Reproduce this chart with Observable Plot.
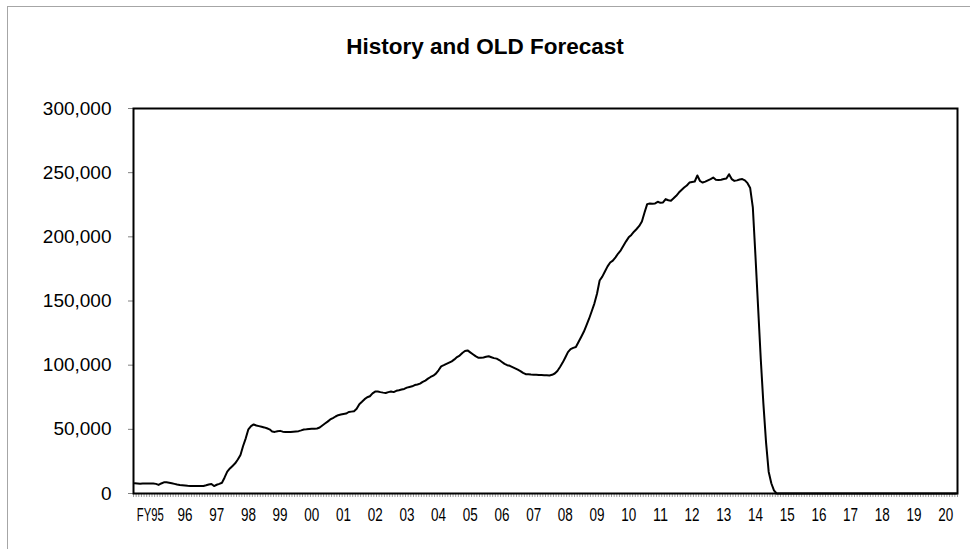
<!DOCTYPE html>
<html>
<head>
<meta charset="utf-8">
<script src="https://cdn.jsdelivr.net/npm/d3@7"></script>
<script src="https://cdn.jsdelivr.net/npm/@observablehq/plot@0.6"></script>
<style>
  html, body { margin: 0; padding: 0; background: #fff; }
  #wrap { position: relative; width: 970px; height: 549px; overflow: hidden; }
  #border { position: absolute; left: 7px; top: 6px; width: 1000px; height: 600px;
            border-left: 1px solid #a6a6a6; border-top: 1px solid #a6a6a6; box-sizing: border-box; }
  #title { position: relative; height: 80px; width: 970px; box-sizing: border-box; padding-top: 34px;
           text-align: center; font: bold 22.5px "Liberation Sans", Arial, sans-serif; line-height: 26px; color: #000; }
  #chart { position: relative; }
</style>
</head>
<body>
<div id="wrap">
  <div id="border"></div>
  <div id="title">History and OLD Forecast</div>
  <div id="chart"></div>
</div>
<script>
// Fiscal-year axis labels (one per year, FY95 .. FY20)
const fyLabels = ["FY95","96","97","98","99","00","01","02","03","04","05","06","07",
                  "08","09","10","11","12","13","14","15","16","17","18","19","20"];

// Y-axis tick values
const yTicks = [0, 50000, 100000, 150000, 200000, 250000, 300000];

// Monthly values, one row per fiscal year (Oct..Sep)
const fy95 = [7900, 7800, 7600, 7700, 7800, 7700, 7800, 7700, 7500, 6700, 7800, 8700];
const fy96 = [8700, 8400, 8000, 7500, 7000, 6600, 6400, 6200, 6000, 5900, 5800, 5800];
const fy97 = [5800, 5800, 5900, 6400, 7000, 7400, 5800, 6800, 7500, 8400, 12500, 17000];
const fy98 = [19500, 21500, 23500, 26500, 30000, 37000, 43000, 50000, 52500, 53800, 53000, 52500];
const fy99 = [52000, 51500, 50800, 50000, 48300, 48000, 48500, 48800, 48200, 48000, 47900, 48000];
const fy00 = [48200, 48400, 48600, 49200, 49900, 50000, 50300, 50500, 50400, 50700, 51400, 53000];
const fy01 = [54500, 56000, 57700, 58800, 60000, 61000, 61500, 62000, 62300, 63500, 63800, 64100];
const fy02 = [66000, 69600, 71500, 73500, 75000, 75800, 78000, 79400, 79500, 79000, 78600, 78300];
const fy03 = [79000, 79500, 79000, 80000, 80400, 81000, 81500, 82500, 83000, 83500, 84500, 85000];
const fy04 = [85600, 87000, 88000, 89500, 90800, 91800, 93400, 96000, 99100, 100000, 101000, 102000];
const fy05 = [103000, 104500, 106300, 107500, 109500, 111000, 111500, 110000, 108500, 107000, 105800, 105800];
const fy06 = [106000, 106500, 106900, 106200, 105500, 105100, 104000, 102500, 101000, 100000, 99500, 98500];
const fy07 = [97500, 96500, 95400, 94000, 93000, 92900, 92700, 92600, 92500, 92400, 92300, 92200];
const fy08 = [92100, 92000, 92500, 93500, 95500, 98600, 102000, 106000, 110200, 112500, 113500, 114100];
const fy09 = [118000, 122000, 126000, 131000, 136200, 142000, 148000, 155600, 166000, 169000, 173000, 177000];
const fy10 = [180000, 181500, 184000, 187000, 189500, 193000, 196500, 199600, 201500, 204000, 206100, 208500];
const fy11 = [212000, 219000, 225500, 226000, 225800, 226000, 227300, 226500, 226800, 229400, 228500, 228100];
const fy12 = [230000, 232000, 234500, 236500, 238400, 240000, 242300, 242800, 243100, 247800, 243500, 242300];
const fy13 = [243000, 244000, 245000, 246200, 244500, 244200, 244500, 245000, 245400, 248800, 245000, 243600];
const fy14 = [244000, 244700, 245000, 244000, 241800, 238000, 223000, 185000, 145000, 105000, 70000, 40000];
const fy15 = [17000, 8000, 2500, 0, 0, 0, 0, 0, 0, 0, 0, 0];
const fy16 = [0, 0, 0, 0, 0, 0, 0, 0, 0, 0, 0, 0];
const fy17 = [0, 0, 0, 0, 0, 0, 0, 0, 0, 0, 0, 0];
const fy18 = [0, 0, 0, 0, 0, 0, 0, 0, 0, 0, 0, 0];
const fy19 = [0, 0, 0, 0, 0, 0, 0, 0, 0, 0, 0, 0];
const fy20 = [0, 0, 0, 0, 0, 0, 0, 0, 0, 0, 0, 0];

const years = [fy95, fy96, fy97, fy98, fy99, fy00, fy01, fy02, fy03, fy04, fy05, fy06, fy07,
               fy08, fy09, fy10, fy11, fy12, fy13, fy14, fy15, fy16, fy17, fy18, fy19, fy20];

const series = years.flat().map((v, i) => ({m: i + 0.5, v}));
const nMonths = years.length * 12;
const monthTicks = d3.range(0, nMonths + 1);
const labelTicks = fyLabels.map((_, i) => i * 12 + 6);

const chart = Plot.plot({
  width: 970,
  height: 469,
  marginLeft: 133,
  marginRight: 13,
  marginTop: 28,
  marginBottom: 56,
  style: { fontFamily: '"Liberation Sans", Arial, sans-serif', background: "transparent", color: "#000" },
  x: { domain: [0, nMonths] },
  y: { domain: [0, 300000] },
  marks: [
    Plot.axisY(yTicks, { tickSize: 5, tickPadding: 17, stroke: "#808080", fill: "#000", label: null,
                         fontSize: 19, tickFormat: d3.format(",") }),
    Plot.axisX(monthTicks, { tickSize: 4, stroke: "#9a9a9a", tickFormat: () => "", label: null }),
    Plot.axisX(labelTicks, { tickSize: 0, tickPadding: 14, fill: "#000", fontSize: 18.5, label: null,
                             dx: 4, className: "fylab",
                             tickFormat: d => fyLabels[(d - 6) / 12] }),
    Plot.line(series, { x: "m", y: "v", stroke: "#000", strokeWidth: 2 }),
    Plot.frame({ stroke: "#000", strokeWidth: 2 })
  ]
});
document.getElementById("chart").appendChild(chart);

// condense the fiscal-year labels horizontally (the reference uses a narrow face)
d3.select(chart).selectAll(".fylab text").each(function () {
  const s = this.textContent;
  const natural = this.getComputedTextLength();
  const target = s.length > 2 ? 27 : 15;
  const sx = natural > 0 ? target / natural : 1;
  const shift = s.length > 2 ? -3 : 0;
  const tr = this.getAttribute("transform");
  if (tr) {
    this.setAttribute("transform", `${tr} translate(${shift},0) scale(${sx},1)`);
  } else {
    const x = +(this.getAttribute("x") || 0);
    const y = +(this.getAttribute("y") || 0);
    this.setAttribute("transform", `translate(${x + shift},${y}) scale(${sx},1) translate(${-x},${-y})`);
  }
});
</script>
</body>
</html>
